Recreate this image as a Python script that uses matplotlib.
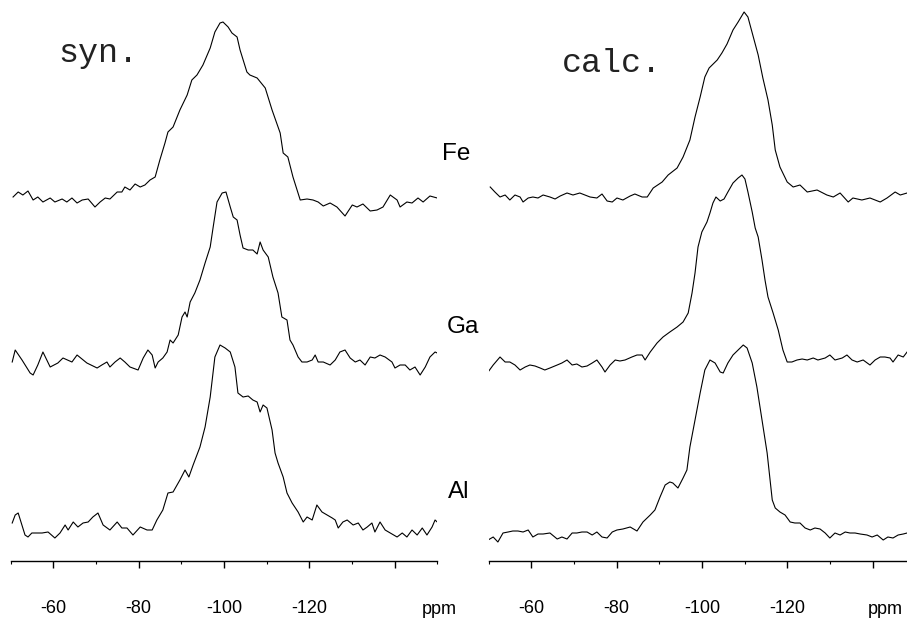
import matplotlib
matplotlib.use("Agg")
import matplotlib.pyplot as plt
import numpy as np

plt.rcParams.update({
    "font.family": ["Liberation Sans", "DejaVu Sans"],
    "figure.facecolor": "white",
})

# traced 29Si MAS NMR spectra: (ppm, height above own baseline, arbitrary units)
fe_syn = [(-50.6, 3), (-51.8, 8), (-52.9, 5), (-54.1, 9), (-55.3, 0), (-56.4, 3), (-57.6, -2), (-59.3, 2),
          (-60.4, -2), (-62.1, 1), (-63.2, -2), (-64.4, 2), (-65.6, -3), (-66.8, 0), (-68.2, 1), (-69.8, -7),
          (-71.0, -2), (-72.2, 2), (-73.3, 1), (-75.0, 8), (-76.1, 8), (-76.8, 13), (-78.0, 10), (-79.2, 16),
          (-80.4, 13), (-81.5, 15), (-82.7, 20), (-83.9, 23), (-85.0, 40), (-86.2, 57), (-86.9, 68), (-88.1, 73),
          (-89.7, 90), (-91.4, 105), (-92.5, 120), (-93.7, 125), (-95.1, 135), (-96.8, 152), (-97.9, 168),
          (-99.1, 177), (-99.8, 178), (-101.0, 173), (-101.9, 167), (-103.1, 163), (-103.8, 150), (-105.4, 128),
          (-106.1, 125), (-107.8, 122), (-109.7, 112), (-111.3, 90), (-113.2, 67), (-113.9, 47), (-115.0, 43),
          (-116.2, 23), (-117.9, 0), (-119.5, 1), (-120.9, 0), (-122.1, -2), (-123.3, -6), (-124.9, -3),
          (-126.5, -7), (-128.4, -16), (-130.1, -5), (-131.2, -7), (-132.6, -4), (-134.3, -11), (-135.9, -10),
          (-137.3, -7), (-139.0, 5), (-140.6, 0), (-141.3, -7), (-142.9, -2), (-144.1, -3), (-145.5, 2),
          (-146.7, -2), (-148.3, 4), (-150.0, 2)]

ga_syn = [(-50.4, 3), (-51.1, 15), (-52.7, 5), (-54.6, -8), (-55.3, -10), (-56.4, 0), (-57.6, 13), (-59.3, -2),
          (-61.1, 2), (-62.3, 7), (-64.4, 3), (-65.6, 10), (-67.9, 2), (-70.3, -3), (-71.4, 0), (-72.6, 3),
          (-73.3, -2), (-74.5, 3), (-75.7, 7), (-76.8, 3), (-78.0, -2), (-79.9, -5), (-81.1, 7), (-82.2, 15),
          (-83.2, 10), (-83.9, -3), (-84.6, 3), (-85.7, 7), (-86.7, 13), (-87.4, 25), (-88.1, 22), (-89.3, 30),
          (-90.2, 48), (-90.9, 53), (-91.4, 48), (-92.1, 63), (-93.2, 72), (-94.4, 85), (-95.6, 102), (-96.8, 118),
          (-97.5, 138), (-98.4, 163), (-99.6, 172), (-100.5, 173), (-101.5, 158), (-102.2, 148), (-103.1, 145),
          (-103.8, 130), (-104.5, 117), (-105.7, 115), (-106.8, 115), (-107.8, 111), (-108.5, 123), (-109.2, 115),
          (-110.4, 108), (-111.5, 88), (-112.7, 72), (-113.6, 48), (-114.8, 45), (-115.5, 25), (-116.2, 20),
          (-117.4, 8), (-118.3, 3), (-119.5, 3), (-120.7, 5), (-121.4, 10), (-122.1, 3), (-123.3, 3), (-124.9, 0),
          (-126.1, 5), (-127.2, 13), (-128.4, 15), (-129.6, 7), (-130.8, 3), (-131.9, 5), (-133.1, 0), (-134.3, 8),
          (-135.4, 7), (-136.6, 10), (-137.8, 8), (-139.4, 3), (-140.1, -3), (-141.3, 0), (-142.5, 0), (-143.6, -5),
          (-144.8, -2), (-146.0, -10), (-147.2, -2), (-148.3, 8), (-149.5, 13), (-150.0, 12)]

al_syn = [(-50.4, 9), (-51.1, 17), (-51.8, 19), (-53.4, -3), (-54.1, -5), (-55.0, -1), (-57.4, -1), (-58.8, 0),
          (-60.4, -6), (-61.6, -1), (-62.8, 7), (-63.5, 2), (-64.7, 10), (-65.8, 5), (-67.0, 9), (-68.2, 10),
          (-69.3, 15), (-70.5, 19), (-71.7, 7), (-73.3, 2), (-75.0, 10), (-76.1, 4), (-77.3, 4), (-78.7, -3),
          (-80.4, 5), (-82.0, 2), (-83.2, 2), (-84.3, 12), (-85.7, 22), (-86.9, 39), (-88.1, 40), (-89.7, 52),
          (-90.9, 62), (-91.8, 55), (-92.8, 67), (-94.4, 85), (-95.6, 105), (-96.8, 135), (-97.9, 175),
          (-99.1, 187), (-100.3, 184), (-101.5, 180), (-102.6, 165), (-103.3, 139), (-104.5, 135), (-105.7, 136),
          (-106.8, 132), (-107.8, 130), (-108.5, 120), (-109.2, 127), (-110.1, 124), (-111.3, 102), (-112.0, 79),
          (-112.7, 69), (-113.9, 55), (-114.8, 39), (-116.0, 29), (-117.4, 20), (-118.6, 10), (-119.5, 15),
          (-120.7, 12), (-121.8, 27), (-123.0, 20), (-124.2, 17), (-125.4, 14), (-126.1, 12), (-126.8, 4),
          (-127.9, 10), (-128.9, 12), (-130.3, 7), (-131.5, 9), (-132.6, 2), (-133.6, 5), (-134.7, 9), (-135.4, 0),
          (-136.6, 10), (-137.8, 2), (-139.0, -1), (-140.6, -5), (-141.8, -1), (-142.9, -5), (-144.1, 2),
          (-145.3, -3), (-146.5, 4), (-147.6, -3), (-148.8, 5), (-149.5, 12), (-150.0, 10)]

fe_calc = [(-50.4, 11), (-51.5, 6), (-52.7, 1), (-53.9, 3), (-55.0, -2), (-56.2, 3), (-57.4, 1), (-58.1, -4),
           (-59.3, 0), (-60.4, 1), (-61.6, 0), (-62.8, 3), (-64.4, 1), (-65.6, -1), (-66.8, 2), (-68.4, 5),
           (-69.8, 3), (-71.4, 5), (-72.6, 3), (-73.8, 1), (-75.4, 0), (-76.6, 4), (-77.8, -3), (-79.0, -4),
           (-80.1, 0), (-81.5, -2), (-83.2, 2), (-84.3, 4), (-86.0, 1), (-87.2, 1), (-88.6, 10), (-90.7, 16),
           (-92.1, 23), (-94.2, 30), (-95.6, 41), (-97.2, 58), (-98.4, 81), (-99.6, 101), (-100.7, 121),
           (-101.7, 130), (-103.6, 138), (-104.7, 145), (-105.9, 154), (-107.3, 168), (-108.5, 176), (-109.9, 186),
           (-110.8, 181), (-112.0, 162), (-113.2, 143), (-114.3, 120), (-115.5, 98), (-116.5, 73), (-117.2, 48),
           (-118.3, 31), (-120.0, 16), (-121.4, 11), (-123.0, 13), (-124.7, 6), (-127.0, 8), (-129.3, 3),
           (-130.8, 1), (-132.4, 5), (-134.3, -4), (-135.4, 0), (-137.5, -2), (-139.4, 0), (-141.8, -4),
           (-143.4, 0), (-145.3, 6), (-146.5, 3), (-148.1, 5)]

ga_calc = [(-49.9, -7), (-51.1, 0), (-52.7, 8), (-53.9, 3), (-55.0, 3), (-56.2, 0), (-57.4, -5), (-58.6, -2),
           (-59.7, 0), (-60.9, -1), (-62.1, -3), (-63.2, -5), (-64.4, -3), (-66.1, 0), (-67.2, 2), (-68.4, 5),
           (-69.6, 0), (-70.7, 1), (-71.9, -2), (-73.1, -1), (-74.3, 2), (-75.4, 5), (-76.6, -2), (-77.3, -7),
           (-78.5, 0), (-79.7, 5), (-80.8, 4), (-82.0, 5), (-83.6, 8), (-84.8, 10), (-86.0, 10), (-86.7, 5),
           (-87.9, 13), (-89.5, 22), (-90.9, 28), (-92.5, 33), (-94.2, 38), (-95.6, 43), (-96.8, 52), (-97.7, 72),
           (-98.4, 92), (-99.1, 118), (-100.0, 133), (-101.2, 143), (-101.9, 152), (-102.6, 162), (-103.3, 168),
           (-104.3, 164), (-105.2, 166), (-106.1, 173), (-107.3, 182), (-108.5, 187), (-109.4, 190), (-110.1, 186),
           (-110.8, 173), (-111.8, 153), (-112.5, 137), (-113.2, 128), (-114.1, 105), (-114.8, 85), (-115.5, 68),
           (-116.7, 52), (-117.9, 35), (-119.0, 15), (-120.0, 3), (-121.1, 3), (-122.3, 5), (-123.5, 6),
           (-124.7, 5), (-126.1, 7), (-127.2, 5), (-128.9, 7), (-130.0, 10), (-131.2, 5), (-132.9, 7), (-134.0, 10),
           (-135.2, 5), (-136.4, 3), (-137.8, 5), (-139.4, 0), (-140.6, 5), (-141.8, 8), (-142.9, 8), (-144.1, 7),
           (-144.8, 3), (-146.0, 10), (-147.2, 8), (-148.1, 13)]

al_calc = [(-49.9, -5), (-51.1, -2), (-52.2, -7), (-53.4, 2), (-54.6, 3), (-55.7, 4), (-56.9, 4), (-58.1, 3),
           (-59.3, 5), (-60.4, -2), (-61.6, 1), (-62.8, 1), (-64.4, 2), (-66.1, -4), (-67.2, -2), (-68.4, -4),
           (-69.6, 2), (-70.7, 2), (-71.9, 3), (-73.1, 3), (-74.3, 0), (-75.4, 3), (-76.6, -2), (-77.8, -3),
           (-79.0, 3), (-80.1, 5), (-81.5, 6), (-83.2, 8), (-84.8, 4), (-86.2, 13), (-87.9, 20), (-89.0, 25),
           (-90.2, 38), (-91.4, 50), (-92.5, 53), (-93.2, 52), (-94.4, 47), (-95.6, 57), (-96.5, 65), (-97.2, 88),
           (-98.4, 115), (-99.6, 142), (-100.7, 165), (-101.9, 175), (-103.1, 172), (-104.3, 163), (-105.0, 162),
           (-106.1, 172), (-107.3, 180), (-108.5, 185), (-109.7, 190), (-110.6, 187), (-111.8, 172), (-112.9, 148),
           (-114.1, 115), (-115.3, 82), (-116.5, 35), (-117.2, 27), (-118.3, 23), (-119.5, 20), (-120.7, 13),
           (-121.8, 12), (-123.0, 12), (-124.2, 7), (-125.4, 5), (-126.5, 7), (-127.7, 6), (-128.9, 2),
           (-130.0, -3), (-131.2, 2), (-132.4, 0), (-133.6, 3), (-134.7, 2), (-135.9, 2), (-137.1, 1), (-138.7, 0),
           (-139.9, -2), (-141.1, 0), (-142.5, -5), (-143.6, -2), (-144.8, -3), (-146.0, 0), (-147.2, 1),
           (-148.1, 2)]

samples = ["Fe", "Ga", "Al"]
major_ticks = [-60, -80, -100, -120, -140]
major_labels = ["-60", "-80", "-100", "-120", ""]
minor_ticks = [-50, -70, -90, -110, -130, -150]

W, H = 907, 623
AXIS_Y = 561  # pixel row of the ppm axis line

fig = plt.figure(figsize=(W / 100, H / 100), dpi=100)


def px_axes(x0, x1):
    ax = fig.add_axes([x0 / W, (H - AXIS_Y) / H, (x1 - x0) / W, AXIS_Y / H])
    ax.patch.set_alpha(0)
    return ax


ax_syn = px_axes(10.5, 437.2)
ax_calc = px_axes(488.5, 915.2)

panels = [
    (ax_syn, [fe_syn, ga_syn, al_syn], [361, 196, 29]),
    (ax_calc, [fe_calc, ga_calc, al_calc], [363, 196, 26]),
]

for ax, spectra, offsets in panels:
    for spec, off in zip(spectra, offsets):
        ppm, h = np.array(spec, dtype=float).T
        ax.plot(ppm, h + off, color="black", lw=0.8)
    ax.set_xlim(-50, -150)
    ax.set_ylim(0, AXIS_Y)
    ax.set_yticks([])
    for s in ["top", "left", "right"]:
        ax.spines[s].set_visible(False)
    ax.spines["bottom"].set_linewidth(1.0)
    ax.set_xticks(major_ticks, labels=major_labels)
    ax.set_xticks(minor_ticks, minor=True)
    ax.tick_params(axis="x", which="major", direction="out", length=5, width=1.0,
                   pad=23, labelsize=13)
    ax.tick_params(axis="x", which="minor", direction="out", length=2.5, width=0.8)


def fig_text(x, y, s, **kw):
    fig.text(x / W, 1 - y / H, s, **kw)


# panel titles in a typewriter face
fig_text(58, 62, "syn.", family="Liberation Mono", fontsize=24, va="baseline", color="#222222")
fig_text(562, 72, "calc.", family="Liberation Mono", fontsize=24, va="baseline", color="#222222")

# sample labels between the panels
for name, (x, y) in zip(samples, [(442, 160), (447, 333), (448, 498)]):
    fig_text(x, y, name, fontsize=17.5, va="baseline")

fig_text(422, 614, "ppm", fontsize=13, va="baseline")
fig_text(868, 614, "ppm", fontsize=13, va="baseline")

fig.savefig("out.png", dpi=100)
